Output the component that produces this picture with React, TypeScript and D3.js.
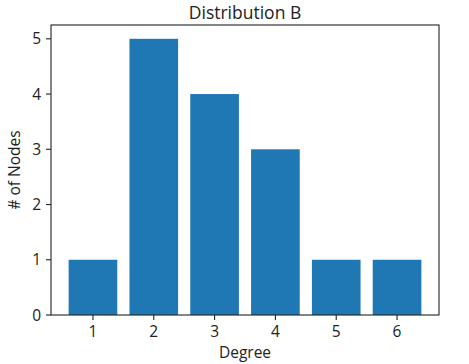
import * as d3 from "d3";

const degrees = [1, 2, 3, 4, 5, 6];
const counts = [1, 5, 4, 3, 1, 1];
const yTicks = [0, 1, 2, 3, 4, 5];

export default function App() {
  const width = 469;
  const height = 364;
  const left = 51;
  const right = 439;
  const top = 25;
  const bottom = 315;
  const barWidth = 0.8;

  const x = d3.scaleLinear().domain([0.31, 6.69]).range([left, right]);
  const y = d3.scaleLinear().domain([0, 5.25]).range([bottom, top]);

  return (
    <svg
      width={width}
      height={height}
      style={{ position: "absolute", left: 0, top: 0, fontFamily: "Open Sans" }}
    >
      <rect width={width} height={height} fill="white" />
      {degrees.map((d, i) => (
        <rect
          key={d}
          x={x(d - barWidth / 2)}
          y={y(counts[i])}
          width={x(d + barWidth / 2) - x(d - barWidth / 2)}
          height={y(0) - y(counts[i])}
          fill="#1f77b4"
        />
      ))}
      <rect
        x={left}
        y={top}
        width={right - left}
        height={bottom - top}
        fill="none"
        stroke="#222"
        strokeWidth={1.1}
      />
      {/* x ticks */}
      {degrees.map((d) => (
        <g key={d} transform={`translate(${x(d)},${bottom})`}>
          <line y2={5} stroke="#222" strokeWidth={1.1} />
          <text y={22} textAnchor="middle" fontSize={15.5} fill="#222">
            {d}
          </text>
        </g>
      ))}
      {/* y ticks */}
      {yTicks.map((t) => (
        <g key={t} transform={`translate(${left},${y(t)})`}>
          <line x2={-5} stroke="#222" strokeWidth={1.1} />
          <text x={-10} dy="0.36em" textAnchor="end" fontSize={15.5} fill="#222">
            {t}
          </text>
        </g>
      ))}
      <text
        x={(left + right) / 2}
        y={19}
        textAnchor="middle"
        fontSize={17.5}
        fill="#222"
      >
        Distribution B
      </text>
      <text
        x={(left + right) / 2}
        y={358}
        textAnchor="middle"
        fontSize={15.5}
        fill="#222"
      >
        Degree
      </text>
      <text
        transform={`translate(20,${(top + bottom) / 2}) rotate(-90)`}
        textAnchor="middle"
        fontSize={15.5}
        fill="#222"
      >
        # of Nodes
      </text>
    </svg>
  );
}
